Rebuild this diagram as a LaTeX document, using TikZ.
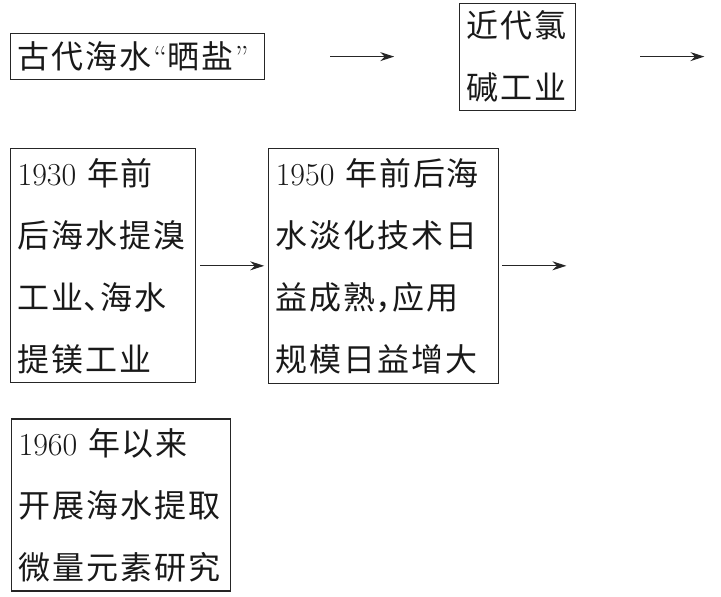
\documentclass[tikz,border=0pt]{standalone}
\usepackage{fontspec}
\newfontfamily\cjk[LetterSpace=6]{Noto Sans CJK SC}
\newcommand{\halfpunct}[1]{\makebox[8.5pt][l]{#1}}
\usepackage{tikz}
\usetikzlibrary{arrows.meta,positioning}
\tikzset{
    %Define standard arrow tip
    >={Stealth[length=7pt,width=4.5pt]},
    %Define style for boxes
    stage/.style={
           rectangle,
           draw=black!85, line width=0.6pt,
           inner xsep=3.5pt, inner ysep=0pt,
           align=left,
           font=\cjk\fontsize{16pt}{31pt}\selectfont,
           text=black!90},
    % Define arrow style
    pil/.style={
           ->,
           line width=0.6pt,
           draw=black!85},
}

\begin{document}
\begin{tikzpicture}[x=0.5pt,y=-0.5pt]
\useasboundingbox (0,0) rectangle (721,596);
 %nodes
\node[stage, anchor=north west, text width=120pt, minimum height=23pt] (salt) at (10,33) {古代海水\textrm{“}晒盐\textrm{”}};
\node[stage, right=97pt of salt, text width=51pt, minimum height=53.5pt] (chlor) {近代氯\\碱工业};
\node[stage, below=34pt of salt.south west, anchor=north west, text width=85.5pt, minimum height=117pt] (bromine) {\textrm{1930} 年前\\后海水提溴\\工业\halfpunct{、}海水\\提镁工业};
\node[stage, right=36pt of bromine, text width=108pt, minimum height=117.5pt] (desal) {\textrm{1950} 年前后海\\水淡化技术日\\益成熟\halfpunct{，}应用\\规模日益增大};
\node[stage, below=17.5pt of bromine.south west, anchor=north west, xshift=0.5pt, text width=102.5pt, minimum height=86pt] (trace) {\textrm{1960} 年以来\\开展海水提取\\微量元素研究};
 %free ends
\coordinate[right=64pt of chlor] (next1);
\coordinate[right=33.5pt of desal] (next2);
 %arrows
\draw[pil, shorten <=32.5pt, shorten >=32.5pt] (salt) -- (chlor);
\draw[pil, shorten <=32pt] (chlor) -- (next1);
\draw[pil, shorten <=2pt, shorten >=2pt] (bromine) -- (desal);
\draw[pil, shorten <=1.5pt] (desal) -- (next2);
\end{tikzpicture}
\end{document}
